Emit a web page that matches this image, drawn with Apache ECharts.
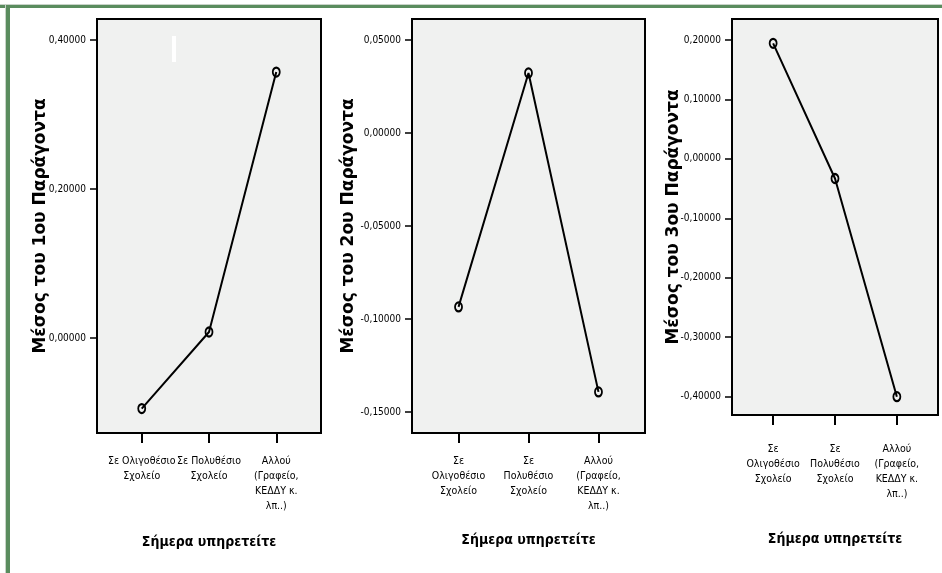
<!DOCTYPE html>
<html>
<head>
<meta charset="utf-8">
<script src="https://cdn.jsdelivr.net/npm/echarts@6/dist/echarts.min.js"></script>
<style>
html,body{margin:0;padding:0;background:#fff;}
#chart{width:942px;height:573px;}
</style>
</head>
<body>
<div id="chart"></div>
<script>
// ---- data ----
var categories1 = ['Σε Ολιγοθέσιο\nΣχολείο', 'Σε Πολυθέσιο\nΣχολείο', 'Αλλού\n(Γραφείο,\nΚΕΔΔΥ κ.\nλπ..)'];
var categories23 = ['Σε\nΟλιγοθέσιο\nΣχολείο', 'Σε\nΠολυθέσιο\nΣχολείο', 'Αλλού\n(Γραφείο,\nΚΕΔΔΥ κ.\nλπ..)'];
var factor1 = [-0.0948, 0.0080, 0.3570];
var factor2 = [-0.0935, 0.0323, -0.1392];
var factor3 = [0.1944, -0.0330, -0.4000];
var ticks1 = [0, 0.2, 0.4];
var ticks2 = [-0.15, -0.10, -0.05, 0, 0.05];
var ticks3 = [-0.4, -0.3, -0.2, -0.1, 0, 0.1, 0.2];
var yTitles = ['Μέσος του 1ου Παράγοντα', 'Μέσος του 2ου Παράγοντα', 'Μέσος του 3ου Παράγοντα'];
var xTitle = 'Σήμερα υπηρετείτε';

var narrow = "'Liberation Sans Narrow', 'Arial Narrow', 'DejaVu Sans Condensed', sans-serif";
var chart = echarts.init(document.getElementById('chart'), null, {renderer: 'canvas'});

function fmt(v) {
  if (Math.abs(v) < 1e-9) v = 0;
  return v.toFixed(5).replace('.', ',');
}

var panels = [
  {grid: {left: 97, top: 19, width: 224, height: 414}, cats: categories1, vals: factor1, ticks: ticks1, ymin: -0.1276, ymax: 0.4282, yGap: 48, xGap: 102, lblMargin: 21},
  {grid: {left: 412, top: 19, width: 233, height: 414}, cats: categories23, vals: factor2, ticks: ticks2, ymin: -0.1613, ymax: 0.0613, yGap: 55, xGap: 100, lblMargin: 21},
  {grid: {left: 732, top: 19, width: 206, height: 396}, cats: categories23, vals: factor3, ticks: ticks3, ymin: -0.4308, ymax: 0.2353, yGap: 50, xGap: 117, lblMargin: 27}
];

var grids = [], xAxes = [], yAxes = [], series = [];
panels.forEach(function (p, i) {
  grids.push(Object.assign({show: true, backgroundColor: '#f0f1f0', borderColor: '#000', borderWidth: 2}, p.grid));
  xAxes.push({
    type: 'value', gridIndex: i, min: -0.665, max: 2.665,
    name: xTitle, nameLocation: 'middle', nameGap: p.xGap, nameMoveOverlap: false,
    nameTextStyle: {fontFamily: narrow, fontSize: 14, fontWeight: 'bold', color: '#000'},
    axisLine: {show: false, onZero: false},
    splitLine: {show: false},
    axisTick: {show: true, length: 10, customValues: [0, 1, 2], lineStyle: {color: '#000', width: 2}},
    axisLabel: {
      customValues: [0, 1, 2], margin: p.lblMargin, color: '#000', hideOverlap: false,
      fontFamily: narrow, fontSize: 10.5, lineHeight: 15, align: 'center',
      formatter: (function (cats) { return function (v) { return cats[Math.round(v)]; }; })(p.cats)
    }
  });
  yAxes.push({
    type: 'value', gridIndex: i, min: p.ymin, max: p.ymax,
    name: yTitles[i], nameLocation: 'middle', nameGap: p.yGap, nameMoveOverlap: false,
    nameTextStyle: {fontFamily: "'DejaVu Sans', sans-serif", fontSize: 17, fontWeight: 'bold', color: '#000'},
    axisLine: {show: false, onZero: false},
    splitLine: {show: false},
    axisTick: {show: true, length: 7, customValues: p.ticks, lineStyle: {color: '#000', width: 1.5}},
    axisLabel: {customValues: p.ticks, margin: 11, color: '#000', hideOverlap: false, fontFamily: narrow, fontSize: 10, formatter: fmt}
  });
  series.push({
    type: 'line', xAxisIndex: i, yAxisIndex: i,
    data: p.vals.map(function (v, k) { return [k, v]; }),
    symbol: 'circle', symbolSize: [7, 9],
    lineStyle: {color: '#000', width: 2},
    itemStyle: {color: 'rgba(0,0,0,0)', borderColor: '#000', borderWidth: 2},
    silent: true, animation: false
  });
});

chart.setOption({
  animation: false,
  backgroundColor: '#fff',
  grid: grids, xAxis: xAxes, yAxis: yAxes, series: series,
  graphic: [
    {type: 'rect', shape: {x: 0, y: 4, width: 942, height: 1}, style: {fill: '#c9d3c9'}, silent: true},
    {type: 'rect', shape: {x: 0, y: 5, width: 942, height: 3}, style: {fill: '#5a8c5e'}, silent: true},
    {type: 'rect', shape: {x: 5, y: 5, width: 1, height: 568}, style: {fill: '#c9d3c9'}, silent: true},
    {type: 'rect', shape: {x: 6, y: 5, width: 4, height: 568}, style: {fill: '#5a8c5e'}, silent: true},
    {type: 'rect', shape: {x: 172, y: 36, width: 4, height: 26}, style: {fill: '#ffffff'}, silent: true, z: 100}
  ]
});
</script>
</body>
</html>
